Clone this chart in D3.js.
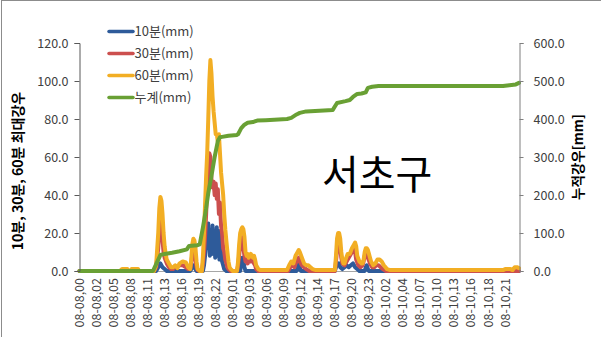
<!DOCTYPE html>
<html><head><meta charset="utf-8">
<script src="https://cdn.jsdelivr.net/npm/d3@7"></script>
<style>
html,body{margin:0;padding:0;background:#fff;}
svg{display:block;}
text{font-family:"Noto Sans CJK KR","Noto Sans",sans-serif;}
</style></head>
<body>
<svg id="c" width="601" height="337"></svg>
<script>
// x-axis category labels (one every 16 time steps)
const xLabels = ["08-08,00","08-08,02","08-08,05","08-08,08","08-08,11","08-08,13","08-08,16","08-08,19","08-08,22",
 "08-09,01","08-09,03","08-09,06","08-09,09","08-09,12","08-09,14","08-09,17","08-09,20","08-09,23",
 "08-10,02","08-10,04","08-10,07","08-10,10","08-10,13","08-10,16","08-10,18","08-10,21"];
const stepsPerLabel = 16;
const totalSteps = 413;
const leftTicks = [0,20,40,60,80,100,120];
const rightTicks = [0,100,200,300,400,500,600];
const seriesNames = ["10분(mm)","30분(mm)","60분(mm)","누계(mm)"];

// [time step, value]
const rain10 = [[0,0],[72,0],[74,2],[76,4],[78,2],[80,1],[82,0],[104,0],[106,2],[107,3],[108,2],[110,0],[116,0],
 [117,3],[118,8],[119,14],[120,20],[121,25],[121.5,12],[122,18],[122.5,8],[123,10],[124,22],[124.5,9],[125,24],
 [126,9],[126.5,18],[127,20],[127.5,7],[128,10],[129,23],[129.5,8],[130,12],[131,21],[131.5,6],[132,7],[133,14],
 [134,5],[135,3],[136,1],[138,0],[151,0],[152,4],[153,7],[154,5],[155,2],[156,0],
 [204,0],[205,2],[206,4],[207,2],[208,0],[240,0],[241,2],[242,4],[243,3],[244,4],[245,2],[247,1],[249,2],[251,3],
 [253,2],[255,3],[257,4],[258,3],[259,2],[261,1],[263,0],[268,0],[269,2],[270,3],[271,1],[272,0],[413,0]];
const rain30 = [[0,0],[70,0],[72,2],[74,12],[75,22],[76,27],[77,24],[78,16],[79,10],[80,7],[82,4],[84,2],[86,1],
 [88,1],[90,2],[94,3],[97,3],[100,2],[102,1],[104,1],[105,4],[106,9],[107,12],[108,10],[109,6],[110,2],[111,0.5],
 [113,0],[115,0],[116,4],[117,10],[118,18],[119,30],[120,45],[121,55],[122,62],[123,60],[124,48],[125,44],[126,47],
 [127,40],[128,46],[129,38],[130,43],[131,30],[132,36],[133,24],[134,20],[135,12],[136,10],[137,6],[138,4],[139,2],
 [140,1],[142,0],[148,0],[149,3],[150,8],[151,14],[152,18],[153,17],[154,12],[155,8],[156,5],[157,6],[158,4],[159,6],
 [160,5],[161,7],[162,5],[163,6],[164,4],[165,3],[166,1],[168,0],[196,0],[198,2],[200,3],[202,2],[203,4],[205,6],
 [206,7],[207,5],[209,3],[211,2],[213,1],[216,0],[240,0],[241,5],[242,11],[243,15],[244,16],[245,12],[246,7],[247,4],
 [249,3],[251,5],[253,7],[255,9],[257,11],[258,12],[259,10],[260,6],[262,3],[264,2],[266,3],[267,5],[268,8],[269,10],
 [270,9],[271,7],[273,4],[275,2],[277,2],[279,3],[281,3],[283,2],[285,1],[288,0],[413,0]];
const rain60 = [[0,0],[38,0],[40,1],[45,1],[46,0],[48,0],[49,1],[55,1],[56,0],[70,0],[72,3],[74,20],[75,33],[76,39],
 [77,37],[78,30],[79,20],[80,13],[81,9],[82,6],[84,4],[86,2],[88,2],[90,3],[92,1.5],[94,4],[97,5],[100,4.5],[102,2],
 [104,1],[105,6],[106,14],[107,17],[108,16],[109,12],[110,5],[111,1],[113,0],[115,0],[116,8],[117,20],[118,35],
 [119,50],[120,62],[121,80],[122,100],[123,111],[124,104],[125,92],[126,84],[127,78],[128,72],[129,72],[130,68],
 [131,72],[132,62],[133,52],[134,46],[135,40],[136,30],[137,22],[138,16],[139,10],[140,5],[141,2],[142,1],[144,0],
 [148,0],[149,5],[150,14],[151,20],[152,22],[153,23],[154,22],[155,18],[156,10],[157,8],[158,9],[159,7],[160,8],
 [161,9],[162,8],[163,7],[164,8],[165,6],[166,3],[168,1],[170,0.5],[195,0.5],[197,3],[199,5],[201,4],[203,8],[205,10],
 [206,11],[207,10],[209,7],[211,4],[213,3],[215,3],[217,2],[219,1],[222,0.5],[240,0.5],[241,8],[242,17],[243,20],
 [244,20],[245,17],[246,10],[247,6],[248,4],[249,4],[250,6],[252,9],[254,9],[256,12],[258,14],[259,15],[260,13],
 [261,8],[263,5],[265,4],[266,4],[267,6],[268,10],[269,12],[270,12],[271,11],[272,9],[274,5],[276,3],[278,4],[280,6],
 [282,6],[284,5],[286,3],[289,1],[292,0.5],[398,0.5],[400,1],[405,1],[407,0.5],[409,2],[411,2],[413,1.5]];
const cumul = [[0,0],[69,0],[76,42],[80,45],[87,48],[94,52],[101,57],[102,62],[103,66],[111,68],[113,70],[116,115],
 [119,165],[121,205],[124,250],[127,300],[130,342],[132,352],[134,353],[140,356],[148,358],[149,360],[152,376],
 [155,385],[158,390],[163,392],[167,396],[175,397],[195,400],[199,403],[204,412],[207,416],[213,420],[238,424],
 [242,442],[250,447],[254,450],[257,458],[261,466],[265,467],[269,470],[271,482],[275,485],[281,487],[398,487],
 [404,489],[410,491],[413,495]];

const colors = ["#2e5b9a","#cc4f4e","#f2ae24","#69a034"];

const svg = d3.select("#c");
svg.append("rect").attr("x",1.5).attr("y",0.5).attr("width",700).attr("height",400)
  .attr("fill","none").attr("stroke","#8c8c8c");

const x = d3.scaleLinear().domain([0,totalSteps]).range([79.5,519]);
const yL = d3.scaleLinear().domain([0,120]).range([271,43]);
const yR = d3.scaleLinear().domain([0,600]).range([271,43]);

// x axis line
svg.append("line").attr("x1",79).attr("x2",519).attr("y1",271.5).attr("y2",271.5)
  .attr("stroke","#a6a6a6").attr("stroke-width",1.2);

// x labels
const xl = svg.append("g");
xLabels.forEach((lab,i)=>{
  const px = x(i*stepsPerLabel);
  xl.append("text").attr("transform",`translate(${px},278) rotate(-90)`)
    .attr("text-anchor","end").attr("dy","0.35em")
    .attr("font-size","12.5px").attr("fill","#404040").text(lab);
});

// series
const line = (ys)=>d3.line().x(d=>x(d[0])).y(d=>ys(d[1]));
const g = svg.append("g").attr("fill","none").attr("stroke-linejoin","round").attr("stroke-linecap","round");
[[rain10,yL],[rain30,yL],[rain60,yL],[cumul,yR]].forEach((s,i)=>{
  g.append("path").datum(s[0]).attr("d",line(s[1])).attr("stroke",colors[i])
   .attr("stroke-width", 4);
});

// left axis
const la = svg.append("g").attr("transform","translate(79.5,0)")
  .call(d3.axisLeft(yL).tickValues(leftTicks).tickFormat(d3.format(".1f")).tickSize(5).tickPadding(6));
la.select(".domain").attr("stroke","#595959");
la.selectAll(".tick line").attr("stroke","#595959");
la.selectAll("text").attr("font-size","12.5px").attr("fill","#404040").attr("font-family",'"Noto Sans CJK KR",sans-serif');

const ra = svg.append("g").attr("transform","translate(519.5,0)")
  .call(d3.axisRight(yR).tickValues(rightTicks).tickFormat(d3.format(".1f")).tickSize(4).tickPadding(10));
ra.select(".domain").attr("stroke","#7f7f7f");
ra.selectAll(".tick line").attr("stroke","#7f7f7f");
ra.selectAll("text").attr("font-size","12.5px").attr("fill","#404040").attr("font-family",'"Noto Sans CJK KR",sans-serif');

// axis titles
svg.append("text").attr("transform","translate(18,171) rotate(-90)").attr("text-anchor","middle")
  .attr("dy","0.35em").attr("font-size","14px").attr("font-weight","bold").attr("fill","#000")
  .text("10분, 30분, 60분 최대강우");
svg.append("text").attr("transform","translate(578,157) rotate(-90)").attr("text-anchor","middle")
  .attr("dy","0.35em").attr("font-size","13.5px").attr("font-weight","bold").attr("fill","#000")
  .text("누적강우[mm]");

// legend
const lg = svg.append("g");
seriesNames.forEach((n,i)=>{
  const yy = 31.5 + i*22;
  lg.append("line").attr("x1",109).attr("x2",133).attr("y1",yy).attr("y2",yy)
    .attr("stroke",colors[i]).attr("stroke-width",3.5).attr("stroke-linecap","round");
  lg.append("text").attr("x",134.5).attr("y",yy).attr("dy","0.35em").attr("font-size","13px")
    .attr("fill","#404040").text(n);
});

// station name
svg.append("text").attr("x",322).attr("y",189).attr("font-size","40px").attr("fill","#000").text("서초구");
</script>
</body></html>
